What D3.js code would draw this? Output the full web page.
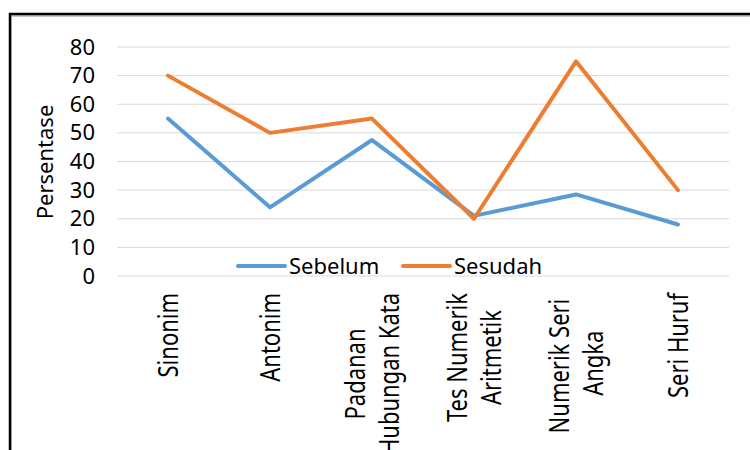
<!DOCTYPE html>
<html>
  <head>
    <meta charset="utf-8">
    <title>Persentase Sebelum / Sesudah</title>
    <script src="https://cdn.jsdelivr.net/npm/d3@7"></script>
  </head>

  <style>
    body {
      margin: 0;
      background: #FFFFFF;
    }
    text {
      font-family: "Noto Sans", "Open Sans", sans-serif;
      fill: #000000;
    }
  </style>

  <body>
    <script>

      // chart values
      var categories = [
        ["Sinonim"],
        ["Antonim"],
        ["Padanan", "Hubungan Kata"],
        ["Tes Numerik", "Aritmetik"],
        ["Numerik Seri ", "Angka"],
        ["Seri Huruf"]
      ];
      var sebelum = [55, 24, 47.5, 21, 28.5, 18];
      var sesudah = [70, 50, 55, 20, 75, 30];
      var yTicks = [0, 10, 20, 30, 40, 50, 60, 70, 80];
      var seriesNames = ["Sebelum", "Sesudah"];
      var seriesColors = ["#5B9BD5", "#ED7D31"];

      var width = 750,
        height = 450;

      var svg = d3.select("body")
        .append("svg")
        .attr("width", width)
        .attr("height", height);

      // outer frame, only top and left edges fall inside the picture
      svg.append("rect")
        .attr("x", 11)
        .attr("y", 16)
        .attr("width", 760)
        .attr("height", 460)
        .attr("fill", "none")
        .attr("stroke", "#C8C8C8")
        .attr("stroke-width", 2);
      svg.append("rect")
        .attr("x", 10)
        .attr("y", 14)
        .attr("width", 760)
        .attr("height", 460)
        .attr("fill", "none")
        .attr("stroke", "#000000")
        .attr("stroke-width", 2.5);

      var x = d3.scaleBand()
        .domain(categories.map((d, i) => i))
        .range([117, 729])
        .padding(0);

      var y = d3.scaleLinear()
        .domain([0, 80])
        .range([276, 47]);

      // gridlines
      svg.append("g")
        .selectAll("line")
        .data(yTicks)
        .enter()
        .append("line")
        .attr("x1", 117)
        .attr("x2", 729)
        .attr("y1", d => y(d))
        .attr("y2", d => y(d))
        .attr("stroke", "#D9D9D9")
        .attr("stroke-width", 1);

      // y axis labels
      var yAxis = svg.append("g")
        .attr("transform", "translate(95,0)")
        .call(d3.axisLeft(y).tickValues(yTicks).tickSize(0).tickPadding(0));
      yAxis.select(".domain").remove();
      yAxis.selectAll("text")
        .style("font-family", "'Noto Sans', sans-serif")
        .style("font-size", "22px")
        .attr("fill", "#000000");

      svg.append("text")
        .attr("transform", "translate(53,162) rotate(-90)")
        .attr("text-anchor", "middle")
        .style("font-size", "22px")
        .text("Persentase");

      // series lines
      var line = d3.line()
        .x((d, i) => x(i) + x.bandwidth() / 2)
        .y(d => y(d));

      [sebelum, sesudah].forEach((s, k) => {
        svg.append("path")
          .datum(s)
          .attr("d", line)
          .attr("fill", "none")
          .attr("stroke", seriesColors[k])
          .attr("stroke-width", 4)
          .attr("stroke-linejoin", "round")
          .attr("stroke-linecap", "round");
      });

      // rotated category labels, wrapped lines centred on the longest one
      var lineGap = 34;
      var catG = svg.append("g");
      categories.forEach((lines, i) => {
        var cx = x(i) + x.bandwidth() / 2;
        var g = catG.append("g");
        var texts = lines.map((t, j) => {
          var lx = cx - (lines.length - 1) * lineGap / 2 + j * lineGap;
          return g.append("text")
            .attr("x", 0)
            .attr("y", 0)
            .attr("dy", "0.35em")
            .attr("transform", "translate(" + lx + ",0) rotate(-90) scale(1,1.25)")
            .style("font-size", "22px")
            .style("white-space", "pre")
            .text(t);
        });
        var maxLen = d3.max(texts, t => t.node().getComputedTextLength());
        texts.forEach(t => {
          t.attr("text-anchor", "middle")
            .attr("x", -(293 + maxLen / 2));
        });
      });

      // legend
      var legendX = [238, 403];
      var legend = svg.append("g")
        .selectAll("g")
        .data(seriesNames)
        .enter()
        .append("g")
        .attr("transform", (d, i) => "translate(" + legendX[i] + ",266)");

      legend.append("line")
        .attr("x1", 0)
        .attr("x2", 47)
        .attr("stroke", (d, i) => seriesColors[i])
        .attr("stroke-width", 4)
        .attr("stroke-linecap", "round");

      legend.append("text")
        .attr("x", 51)
        .attr("dy", "0.35em")
        .style("font-size", "22px")
        .text(d => d);

    </script>
  </body>
</html>
